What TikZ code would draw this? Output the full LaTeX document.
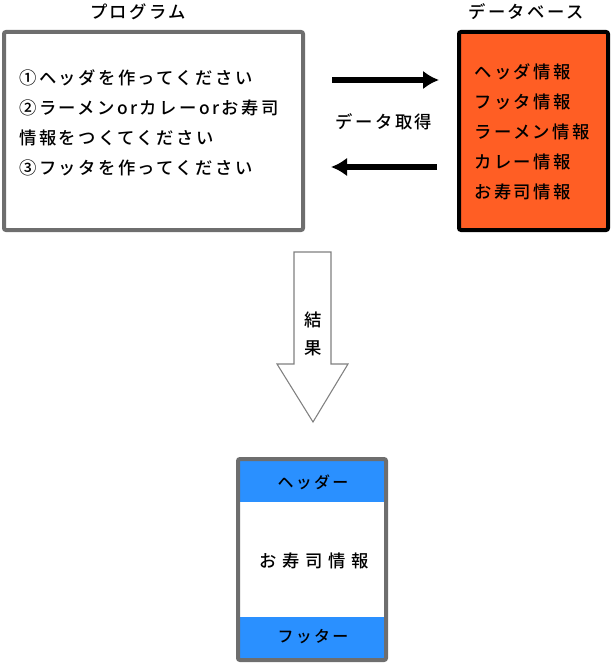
\documentclass[tikz,border=0pt]{standalone}
\usepackage{fontspec}
\setmainfont{Noto Sans CJK JP}[LetterSpace=14, BoldFont={Noto Sans CJK JP Medium}]
\usetikzlibrary{arrows.meta}
\definecolor{boxgray}{HTML}{6E6E6E}
\definecolor{dborange}{HTML}{FF5E24}
\definecolor{bandblue}{HTML}{2A90FF}
\definecolor{arrowgray}{HTML}{808080}
\tikzset{
  txt/.style={inner sep=0pt, anchor=west, font=\fontsize{13pt}{15pt}\selectfont\bfseries},
  ctxt/.style={inner sep=0pt, anchor=center, font=\fontsize{13pt}{15pt}\selectfont\bfseries},
  bigtxt/.style={inner sep=0pt, anchor=center, font=\fontsize{13pt}{15pt}\selectfont\bfseries\addfontfeatures{LetterSpace=32}},
  smalltxt/.style={inner sep=0pt, anchor=center, font=\fontsize{12pt}{14pt}\selectfont\bfseries},
  flow/.style={line width=4.5pt, -{Latex[length=12pt,width=14pt]}},
}
\begin{document}
\begin{tikzpicture}[x=0.75pt,y=-0.75pt]
\useasboundingbox (0,0) rectangle (612,663);
% Program box
\draw[boxgray, line width=3pt, rounded corners=1.5pt, fill=white] (4,32) rectangle (303,230);
\node[ctxt] (ptitle) at (138,12) {プログラム};
\node[txt] (p1) at (19,78) {①ヘッダを作ってください};
\node[txt] (p2) at (19,108) {②ラーメンorカレーorお寿司};
\node[txt] (p3) at (19,138) {情報をつくてください};
\node[txt] (p4) at (19,168) {③フッタを作ってください};
% Database box
\draw[black, line width=3pt, rounded corners=1.5pt, fill=dborange] (459,32) rectangle (608,230);
\node[ctxt] (dtitle) at (526,12) {データベース};
\node[txt] (d1) at (474,72) {ヘッダ情報};
\node[txt] (d2) at (474,102) {フッタ情報};
\node[txt] (d3) at (474,132) {ラーメン情報};
\node[txt] (d4) at (474,162) {カレー情報};
\node[txt] (d5) at (474,192) {お寿司情報};
% arrows
\coordinate (ra) at (332,80);
\coordinate (rb) at (439,80);
\coordinate (la) at (437,167);
\coordinate (lb) at (331,167);
\draw[flow] (ra) -- (rb);
\draw[flow] (la) -- (lb);
\node[ctxt] (get) at (384,122) {データ取得};
% block arrow
\draw[arrowgray, line width=0.8pt, fill=white]
  (294,252) -- (331,252) -- (331,364) -- (348,364) -- (313,422) -- (277,364) -- (294,364) -- cycle;
\node[ctxt] (res1) at (313,320) {結};
\node[ctxt] (res2) at (313,348) {果};
% result box
\fill[bandblue] (238,459) rectangle (386,502);
\fill[white] (238,502) rectangle (386,617);
\fill[bandblue] (238,617) rectangle (386,660);
\draw[boxgray, line width=3pt, rounded corners=1.5pt] (238,459) rectangle (386,660);
\node[smalltxt] (rh) at (313,482) {ヘッダー};
\node[bigtxt] (rm) at (314,561) {お寿司情報};
\node[smalltxt] (rf) at (313,637) {フッター};
\end{tikzpicture}
\end{document}
